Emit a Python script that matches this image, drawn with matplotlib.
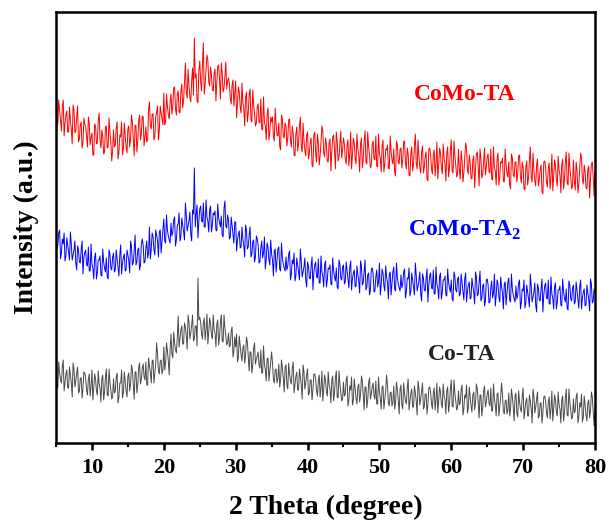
import numpy as np
import matplotlib
matplotlib.use("Agg")
import matplotlib.pyplot as plt
from matplotlib.ticker import MultipleLocator

# 2-theta grid: readings every 0.125 degree from 5 to 80
two_theta_start = 5.0
two_theta_step = 0.125

# Intensities (a.u., offset-stacked as in the picture).
# *_a: readings at 5.00, 5.25, 5.50 ... 80.00 ; *_b: readings at 5.125, 5.375 ... 79.875
como_ta_a = [
    375, 319, 333, 312,  343, 320, 332, 311,  322, 299, 333, 312,  337, 304, 321, 300,
    319, 307, 326, 298,  310, 288, 317, 300,  330, 295, 307, 291,  317, 296, 311, 282,
    313, 298, 321, 290,  306, 288, 320, 296,  314, 296, 328, 304,  318, 291, 322, 303,
    327, 297, 316, 303,  341, 314, 329, 306,  331, 303, 337, 324,  350, 321, 337, 324,
    349, 337, 356, 328,  352, 330, 359, 342,  380, 345, 357, 341,  375, 405, 369, 340,
    382, 352, 400, 358,  388, 361, 376, 353,  370, 342, 376, 363,  380, 351, 367, 354,
    365, 344, 358, 337,  362, 339, 351, 330,  340, 317, 351, 330,  354, 321, 338, 317,
    336, 321, 344, 313,  321, 303, 335, 311,  321, 306, 335, 308,  320, 293, 324, 305,
    317, 305, 324, 296,  309, 287, 316, 299,  326, 291, 303, 287,  311, 290, 305, 276,
    311, 281, 300, 287,  317, 290, 305, 282,  300, 272, 306, 293,  311, 282, 298, 285,
    305, 284, 298, 277,  311, 288, 300, 279,  294, 271, 305, 284,  312, 279, 296, 275,
    299, 284, 307, 276,  289, 271, 303, 279,  293, 275, 307, 283,  294, 267, 298, 279,
    295, 283, 302, 274,  289, 267, 296, 279,  309, 274, 286, 270,  297, 276, 291, 262,
    295, 274, 288, 267,  301, 278, 290, 269,  285, 262, 296, 275,  303, 270, 287, 266,
    294, 264, 283, 270,  300, 273, 288, 265,  283, 255, 289, 276,  294, 265, 281, 268,
    286, 271, 294, 263,  276, 258, 290, 266,  280, 262, 294, 270,  281, 254, 285, 266,
    281, 269, 288, 260,  275, 253, 282, 265,  296, 261, 273, 257,  284, 263, 278, 249,
    282, 261, 275, 254,  289, 266, 278, 257,  273, 250, 284, 263,  291, 258, 275, 254,
    283, 253, 272, 259,  290, 263, 278, 255,  273, 245, 279, 266,
    272,
]
como_ta_b = [
    317, 343, 322, 337,  307, 328, 311, 336,  314, 338, 310, 326,  301, 318, 295, 325,
    316, 296, 320, 306,  288, 319, 299, 323,  303, 313, 289, 316,  295, 325, 301, 292,
    296, 315, 284, 308,  321, 295, 307, 290,  317, 304, 321, 287,  317, 302, 328, 309,
    326, 307, 301, 333,  317, 329, 303, 326,  337, 313, 330, 318,  318, 349, 328, 341,
    329, 355, 334, 349,  331, 352, 335, 360,  350, 374, 346, 362,  348, 365, 342, 372,
    361, 380, 349, 373,  383, 357, 369, 352,  374, 361, 378, 344,  370, 355, 381, 362,
    359, 339, 363, 349,  325, 356, 336, 360,  335, 345, 321, 348,  323, 353, 329, 320,
    339, 320, 314, 346,  317, 329, 303, 326,  326, 302, 319, 307,  297, 328, 307, 320,
    297, 323, 302, 317,  288, 309, 292, 317,  296, 320, 292, 308,  284, 301, 278, 308,
    290, 309, 278, 302,  312, 286, 298, 281,  304, 291, 308, 274,  301, 286, 312, 293,
    299, 279, 303, 289,  274, 305, 285, 309,  289, 299, 275, 302,  281, 311, 287, 278,
    302, 283, 277, 309,  285, 297, 271, 294,  298, 274, 291, 279,  271, 302, 281, 294,
    275, 301, 280, 295,  268, 289, 272, 297,  279, 303, 275, 291,  270, 287, 264, 294,
    289, 269, 293, 279,  264, 295, 275, 299,  280, 290, 266, 293,  272, 302, 278, 269,
    273, 292, 261, 285,  295, 269, 281, 264,  287, 274, 291, 257,  284, 269, 295, 276,
    289, 270, 264, 296,  272, 284, 258, 281,  285, 261, 278, 266,  258, 289, 268, 281,
    261, 287, 266, 281,  254, 275, 258, 283,  266, 290, 262, 278,  257, 274, 251, 281,
    276, 256, 280, 266,  252, 283, 263, 287,  268, 278, 254, 281,  260, 290, 266, 257,
    262, 281, 250, 274,  285, 259, 271, 254,  277, 264, 281, 247,
]

como_ta2_a = [
    207, 198, 213, 190,  199, 182, 205, 191,  211, 183, 193, 180,  197, 181, 193, 169,
    190, 178, 196, 172,  179, 164, 190, 171,  183, 168, 194, 175,  185, 164, 189, 173,
    190, 173, 184, 167,  198, 180, 189, 173,  188, 170, 197, 180,  208, 181, 195, 178,
    204, 180, 195, 185,  216, 194, 206, 188,  208, 186, 213, 202,  224, 200, 213, 203,
    220, 211, 226, 203,  219, 202, 225, 211,  240, 212, 222, 209,  233, 275, 229, 205,
    234, 222, 240, 216,  226, 211, 237, 218,  228, 213, 239, 220,  227, 206, 242, 215,
    223, 206, 217, 200,  221, 203, 212, 196,  204, 186, 213, 196,  216, 189, 203, 186,
    204, 180, 195, 185,  206, 184, 196, 178,  189, 167, 194, 183,  196, 172, 185, 175,
    186, 177, 192, 169,  179, 162, 185, 171,  194, 166, 176, 163,  181, 165, 177, 153,
    178, 166, 184, 160,  171, 156, 182, 163,  174, 159, 185, 166,  175, 154, 179, 163,
    178, 161, 172, 155,  182, 164, 173, 157,  168, 150, 177, 160,  183, 156, 170, 153,
    175, 151, 166, 156,  180, 158, 170, 152,  166, 144, 171, 160,  176, 152, 165, 155,
    168, 159, 174, 151,  164, 147, 170, 156,  180, 152, 162, 149,  169, 153, 165, 141,
    167, 155, 173, 149,  159, 144, 170, 151,  163, 148, 174, 155,  163, 142, 167, 151,
    166, 149, 160, 143,  170, 152, 161, 145,  157, 139, 166, 149,  172, 145, 159, 142,
    164, 140, 155, 145,  169, 147, 159, 141,  156, 134, 161, 150,  165, 141, 154, 144,
    157, 148, 163, 140,  152, 135, 158, 144,  169, 141, 151, 138,  159, 143, 155, 131,
    157, 145, 163, 139,  149, 134, 160, 141,  153, 138, 164, 145,  154, 133, 158, 142,
    158, 141, 152, 135,  163, 145, 154, 138,  150, 132, 159, 142,
    150,
]
como_ta2_b = [
    194, 210, 184, 204,  210, 187, 198, 183,  199, 188, 202, 173,  193, 180, 202, 186,
    193, 177, 172, 199,  175, 186, 164, 183,  187, 167, 181, 171,  166, 193, 175, 186,
    171, 193, 175, 188,  169, 186, 172, 193,  182, 202, 178, 192,  178, 193, 173, 199,
    198, 181, 202, 190,  184, 210, 193, 213,  202, 211, 190, 213,  202, 228, 207, 200,
    207, 223, 197, 217,  230, 207, 218, 203,  228, 217, 231, 202,  229, 216, 238, 222,
    237, 221, 216, 243,  222, 233, 211, 230,  232, 212, 226, 216,  208, 235, 217, 228,
    204, 226, 208, 221,  192, 209, 195, 216,  198, 218, 194, 208,  186, 201, 181, 207,
    198, 181, 202, 190,  174, 200, 183, 203,  183, 192, 171, 194,  174, 200, 179, 172,
    173, 189, 163, 183,  190, 167, 178, 163,  182, 171, 185, 156,  177, 164, 186, 170,
    181, 165, 160, 187,  167, 178, 156, 175,  178, 158, 172, 162,  156, 183, 165, 176,
    159, 181, 163, 176,  153, 170, 156, 177,  162, 182, 158, 172,  153, 168, 148, 174,
    169, 152, 173, 161,  148, 174, 157, 177,  160, 169, 148, 171,  154, 180, 159, 152,
    155, 171, 145, 165,  175, 152, 163, 148,  168, 157, 171, 142,  165, 152, 174, 158,
    170, 154, 149, 176,  155, 166, 144, 163,  167, 147, 161, 151,  144, 171, 153, 164,
    147, 169, 151, 164,  141, 158, 144, 165,  151, 171, 147, 161,  142, 157, 137, 163,
    158, 141, 162, 150,  137, 163, 146, 166,  150, 159, 138, 161,  143, 169, 148, 141,
    144, 160, 134, 154,  163, 140, 151, 136,  157, 146, 160, 131,  155, 142, 164, 148,
    160, 144, 139, 166,  145, 156, 134, 153,  157, 137, 151, 141,  135, 162, 144, 155,
    139, 161, 143, 156,  134, 151, 137, 158,  144, 164, 140, 154,
]

co_ta_a = [
    79, 55, 70, 60,  83, 61, 73, 55,  68, 46, 73, 62,  76, 52, 65, 55,
    70, 53, 64, 47,  73, 55, 64, 48,  59, 41, 68, 51,  74, 47, 61, 44,
    64, 52, 70, 46,  60, 45, 71, 52,  67, 52, 78, 59,  71, 50, 75, 59,
    75, 66, 81, 58,  77, 60, 83, 69,  100, 72, 82, 69,  96, 80, 92, 68,
    109, 85, 100, 90,  127, 105, 117, 99,  116, 94, 121, 110,  128, 104, 117, 165,
    126, 109, 120, 103,  129, 111, 120, 104,  114, 96, 123, 106,  128, 101, 115, 98,
    110, 98, 116, 92,  96, 81, 107, 88,  95, 80, 106, 87,  91, 70, 95, 79,
    87, 78, 93, 70,  79, 62, 85, 71,  91, 63, 73, 60,  79, 63, 75, 51,
    78, 54, 69, 59,  81, 59, 71, 53,  66, 44, 71, 60,  74, 50, 63, 53,
    69, 52, 63, 46,  72, 54, 63, 47,  58, 40, 67, 50,  72, 45, 59, 42,
    61, 49, 67, 43,  53, 38, 64, 45,  56, 41, 67, 48,  56, 35, 60, 44,
    56, 47, 62, 39,  51, 34, 57, 43,  68, 40, 50, 37,  57, 41, 53, 29,
    58, 34, 49, 39,  64, 42, 54, 36,  50, 28, 55, 44,  60, 36, 49, 39,
    56, 39, 50, 33,  60, 42, 51, 35,  47, 29, 56, 39,  63, 36, 50, 33,
    52, 40, 58, 34,  45, 30, 56, 37,  48, 33, 59, 40,  48, 27, 52, 36,
    49, 40, 55, 32,  44, 27, 50, 36,  60, 32, 42, 29,  50, 34, 46, 22,
    50, 26, 41, 31,  55, 33, 45, 27,  42, 20, 47, 36,  51, 27, 40, 30,
    47, 30, 41, 24,  52, 34, 43, 27,  38, 20, 47, 30,  54, 27, 41, 24,
    44, 32, 50, 26,  36, 21, 47, 28,  40, 25, 51, 32,
    36,
]
co_ta_b = [
    59, 81, 63, 76,  52, 69, 55, 76,  60, 80, 56, 70,  50, 65, 45, 71,
    65, 48, 69, 57,  43, 69, 52, 72,  55, 64, 43, 66,  48, 74, 53, 46,
    50, 66, 40, 60,  73, 50, 61, 46,  70, 59, 73, 44,  71, 58, 80, 64,
    79, 63, 58, 85,  71, 82, 60, 79,  89, 69, 83, 73,  73, 100, 82, 93,
    89, 111, 93, 106,  96, 113, 99, 120,  108, 128, 104, 118,  102, 117, 97, 123,
    121, 104, 125, 113,  99, 125, 108, 128,  110, 119, 98, 121,  102, 128, 107, 100,
    96, 112, 86, 106,  109, 86, 97, 82,  98, 87, 101, 72,  91, 78, 100, 84,
    91, 75, 70, 97,  73, 84, 62, 81,  80, 60, 74, 64,  56, 83, 65, 76,
    58, 80, 62, 75,  50, 67, 53, 74,  58, 78, 54, 68,  48, 63, 43, 69,
    64, 47, 68, 56,  42, 68, 51, 71,  54, 63, 42, 65,  46, 72, 51, 44,
    47, 63, 37, 57,  66, 43, 54, 39,  59, 48, 62, 33,  56, 43, 65, 49,
    60, 44, 39, 66,  45, 56, 34, 53,  57, 37, 51, 41,  34, 61, 43, 54,
    38, 60, 42, 55,  33, 50, 36, 57,  42, 62, 38, 52,  34, 49, 29, 55,
    51, 34, 55, 43,  30, 56, 39, 59,  43, 52, 31, 54,  37, 63, 42, 35,
    38, 54, 28, 48,  58, 35, 46, 31,  51, 40, 54, 25,  48, 35, 57, 41,
    53, 37, 32, 59,  38, 49, 27, 46,  49, 29, 43, 33,  27, 54, 36, 47,
    30, 52, 34, 47,  24, 41, 27, 48,  34, 54, 30, 44,  25, 40, 20, 46,
    42, 25, 46, 34,  22, 48, 31, 51,  34, 43, 22, 45,  28, 54, 33, 26,
    30, 46, 20, 40,  49, 26, 37, 22,  43, 32, 46, 17,
]

series_names = ["CoMo-TA", "CoMo-TA$_\\mathbf{2}$", "Co-TA"]
series_colors = ["#FF0000", "#0000FF", "#4A4A4A"]
label_colors = ["#FF0000", "#0000FF", "#222222"]
x_ticks = [10, 20, 30, 40, 50, 60, 70, 80]

plt.rcParams["font.family"] = ["Liberation Serif", "DejaVu Serif"]
plt.rcParams["mathtext.fontset"] = "custom"
plt.rcParams["mathtext.rm"] = "Liberation Serif"
plt.rcParams["mathtext.bf"] = "Liberation Serif:bold"


def merge(a, b):
    out = np.empty(len(a) + len(b))
    out[0::2] = a
    out[1::2] = b
    return out


fig = plt.figure(figsize=(6.09, 5.29), dpi=100)
ax = fig.add_axes([0.092, 0.1626, 0.885, 0.8148])

for (a, b), c in zip([(como_ta_a, como_ta_b), (como_ta2_a, como_ta2_b), (co_ta_a, co_ta_b)],
                     series_colors):
    ys = merge(a, b)
    xs = two_theta_start + two_theta_step * np.arange(len(ys))
    ax.plot(xs, ys, color=c, lw=0.7)

ax.set_xlim(5, 80)
ax.set_ylim(0, 431)
ax.set_xticks(x_ticks)
ax.xaxis.set_minor_locator(MultipleLocator(5))
ax.set_yticks([])
ax.tick_params(axis="x", which="major", direction="out", length=5, width=1.8,
               labelsize=16, pad=6)
ax.tick_params(axis="x", which="minor", direction="out", length=3, width=1.5)
for lab in ax.get_xticklabels():
    lab.set_fontweight("bold")
for sp in ax.spines.values():
    sp.set_linewidth(1.8)

ax.set_xlabel("2 Theta (degree)", fontsize=20, fontweight="bold", labelpad=12)
ax.set_ylabel("Intensity (a.u.)", fontsize=20, fontweight="bold", labelpad=12)

ax.text(61.9, 348, series_names[0], color=label_colors[0], fontsize=17,
        fontweight="bold", ha="center", va="center")
ax.text(61.9, 213, series_names[1], color=label_colors[1], fontsize=17,
        fontweight="bold", ha="center", va="center")
ax.text(61.5, 88, series_names[2], color=label_colors[2], fontsize=17,
        fontweight="bold", ha="center", va="center")

fig.savefig("out.png", dpi=100)
